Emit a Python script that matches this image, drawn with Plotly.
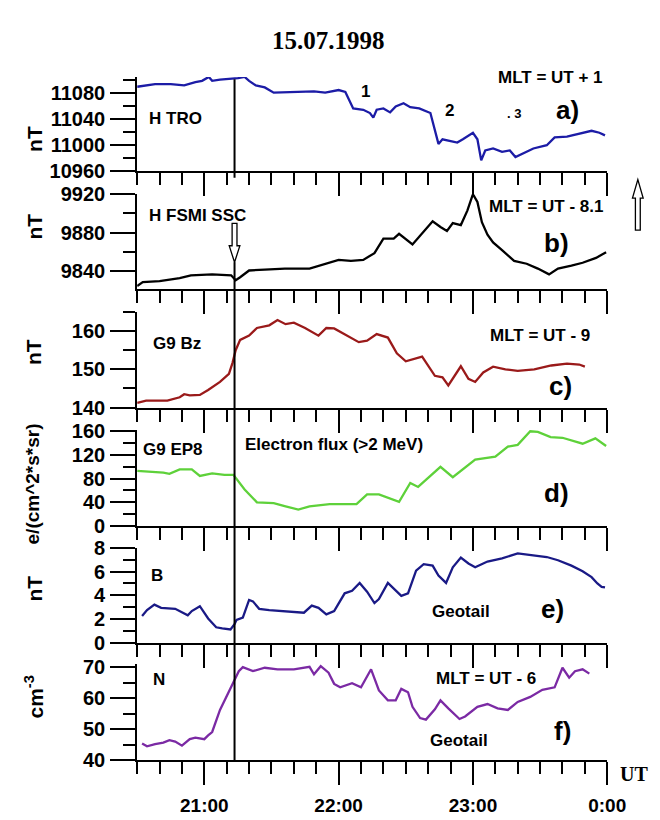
import plotly.graph_objects as go

W, H = 660, 820

# ---------------- data (minutes after 20:30 UT, values) ----------------
tro_min = [0, 4, 8, 15, 21, 26, 29, 32, 33.5, 37, 43, 45, 48, 50, 53, 57, 61, 70, 79, 84, 90, 93, 95,
           96.5, 101, 104, 105.5, 107, 110, 113, 115.5, 119, 122, 126, 131, 133, 134.6, 136.4, 139, 143,
           145.5, 150, 152, 153.7, 155.5, 159, 163, 166.5, 169, 172, 177, 183, 186.5, 192, 197.5, 203,
           206.5, 209]
tro_val = [11089, 11091, 11093, 11093, 11091, 11096, 11098, 11104, 11098, 11100, 11101, 11102, 11104,
           11098, 11091, 11088, 11080, 11081, 11082, 11080, 11084, 11081, 11066, 11056, 11054, 11049,
           11042, 11054, 11056, 11050, 11059, 11064, 11058, 11056, 11049, 11024, 11002, 11009, 11007,
           11004, 11009, 11019, 11009, 10977, 10992, 10995, 10990, 10992, 10982, 10987, 10995, 11000,
           11012, 11013, 11017, 11022, 11019, 11015]

fsmi_min = [0, 2.5, 10, 15, 19, 24, 33.5, 42, 44, 46, 50, 57, 66, 77, 84.5, 90, 95.5, 101, 106, 110,
            114.6, 117, 123, 127.5, 132, 135.5, 138.4, 141, 144.6, 147.5, 150, 152, 154, 156.5, 159,
            163, 168.4, 174, 179, 184, 188, 194, 199, 205, 209.5]
fsmi_val = [9825, 9829, 9830, 9832, 9833, 9836, 9837, 9836, 9831, 9834, 9841, 9842, 9843, 9843, 9848,
            9852, 9851, 9852, 9859, 9874, 9874, 9879, 9868, 9880, 9892, 9886, 9882, 9890, 9888, 9903,
            9920, 9912, 9891, 9878, 9870, 9862, 9851, 9848, 9843, 9837, 9843, 9846, 9849, 9854, 9860]

bz_min = [0, 4, 13.5, 19, 21, 23.5, 28, 31.7, 37, 41, 42.6, 44, 46, 50, 53.5, 59, 62.7, 66.3, 70, 75,
          81, 84.5, 88, 93.6, 99, 102.7, 107, 112, 116, 120, 124.6, 127.3, 133, 136.4, 139, 142, 144.6,
          148, 151, 154.6, 159, 164.5, 170, 177.4, 185, 192, 197.5, 200]
bz_val = [141.2, 141.8, 141.8, 142.7, 143.5, 143.2, 143.3, 144.6, 146.7, 148.8, 151.7, 155.0, 157.7,
          158.8, 160.8, 161.5, 162.9, 161.8, 162.2, 160.8, 158.8, 160.8, 160.7, 158.8, 157.1, 157.5,
          159.2, 158.3, 154.2, 152.1, 152.9, 153.3, 148.3, 147.9, 145.8, 148.3, 150.8, 147.5, 146.7,
          149.2, 150.7, 150.0, 149.6, 150.0, 151.0, 151.5, 151.25, 150.7]

ep8_min = [0, 4, 11.7, 14.4, 19, 24.4, 28, 33.5, 39, 43, 48, 53.5, 61, 66.3, 72, 77, 86, 98, 102.7,
           108, 112.7, 117, 122, 125.5, 135.5, 141, 151, 160, 165.6, 170, 175.6, 179, 184.7, 190, 199,
           204.7, 209.5]
ep8_val = [93, 92, 90, 88, 95.5, 95.5, 84.6, 89, 86.3, 86.3, 61.7, 40, 38.8, 33.3, 27.8, 33.3, 37, 37,
           53.5, 53.5, 46.4, 41, 72.6, 66, 100, 82.4, 112, 117, 134, 137, 160, 159, 150, 149, 139, 148,
           135]

b_min = [2.2, 4.4, 7.7, 10.7, 17, 20.4, 22.6, 24.4, 28, 31.7, 35.3, 38, 41.7, 43.5, 44.4, 47.2, 50,
         51.7, 54.5, 59, 66.3, 70, 74.5, 78, 81, 84.5, 88, 92.7, 96, 99.4, 102.7, 106, 108, 112, 115.5,
         118, 121, 124.6, 128, 132, 134.6, 138, 141, 144.6, 148, 151, 156.5, 163, 170, 175.6, 183, 188,
         194, 199, 203, 205.6, 207.5, 209]
b_val = [2.25, 2.74, 3.2, 2.93, 2.85, 2.52, 2.3, 2.66, 3.07, 2.03, 1.29, 1.2, 1.1, 1.56, 1.92, 2.1, 3.6,
         3.48, 2.85, 2.74, 2.66, 2.58, 2.52, 3.12, 2.93, 2.38, 2.66, 4.16, 4.38, 5.04, 4.3, 3.34, 3.67,
         5.04, 4.44, 3.95, 4.16, 6.08, 6.63, 6.5, 5.67, 5.04, 6.36, 7.18, 6.68, 6.36, 6.85, 7.12, 7.53,
         7.4, 7.23, 6.96, 6.5, 6.03, 5.53, 4.99, 4.71, 4.66]

n_min = [2.2, 4.4, 8, 11.7, 14.4, 17, 20, 23.5, 26, 30, 31.7, 33.5, 37, 41, 43.5, 45.4, 47.2, 51.7, 57,
         62.7, 70, 77, 79, 82, 85.5, 88, 90.7, 96, 100, 104.5, 108, 112, 115.5, 118, 121, 123, 126.4,
         129, 133, 135.5, 139, 144, 146.5, 152, 156.5, 161, 165.6, 170, 175.6, 181, 186.5, 190, 193,
         195.6, 199, 202]
n_val = [45.4, 44.5, 45.2, 45.7, 46.5, 46.0, 44.7, 46.8, 47.3, 46.8, 48.0, 49.1, 56.2, 61.9, 66.0, 68.7,
         70.0, 68.7, 69.8, 69.3, 69.3, 70.1, 67.7, 70.3, 68.2, 64.6, 63.5, 64.8, 63.5, 69.3, 62.5, 59.3,
         59.3, 63.0, 61.9, 57.2, 53.6, 53.1, 56.4, 59.3, 56.7, 53.3, 54.1, 57.2, 58.1, 56.7, 56.2, 58.8,
         60.4, 62.7, 63.5, 69.8, 66.6, 68.7, 69.3, 67.9]

x_tickvals = [21, 22, 23, 24]
x_ticktext = ["21:00", "22:00", "23:00", "0:00"]
ssc_time = 21.225  # SSC vertical marker (UT hours)

# ---------------- layout geometry (pixels) ----------------
X_LEFT, X_RIGHT = 133, 617
X_RANGE = [20.5, 24]
panels = [
    # (bottom_px, top_px, range, major dtick, minor dtick, tick0, color, minutes, values)
    (156.7, 59.5, [10960, 11104], 40, 20, 10960, "#1c1ca6", tro_min, tro_val),
    (277.3, 180.0, [9822, 9920], 40, 20, 9840, "#000000", fsmi_min, fsmi_val),
    (399.3, 301.0, [140, 165], 10, 5, 140, "#9a1a1a", bz_min, bz_val),
    (521.0, 422.4, [0, 162], 40, 20, 0, "#5ed13a", ep8_min, ep8_val),
    (640.7, 543.5, [0, 8], 2, 1, 0, "#1a1a86", b_min, b_val),
    (761.7, 662.8, [40, 71], 10, 5, 40, "#7b2aa4", n_min, n_val),
]


def px(x):
    return x / W


def py(y):
    return 1 - y / H


def sfx(k):
    return "" if k == 1 else str(k)


fig = go.Figure()
layout = dict(
    width=W, height=H, margin=dict(l=0, r=0, t=0, b=0),
    paper_bgcolor="white", plot_bgcolor="white", showlegend=False,
)

ytick_font = dict(family="Liberation Sans", size=20, color="black", weight="bold")
xtick_font = dict(family="Liberation Sans", size=19, color="black", weight="bold")
LW = 2

for i, (yb, yt, rng, dt, mdt, t0, col, mins, vals) in enumerate(panels):
    n = i + 1
    fig.add_trace(go.Scatter(
        x=[20.5 + m / 60 for m in mins], y=vals, mode="lines",
        line=dict(color=col, width=2.3), xaxis=f"x{sfx(n)}", yaxis=f"y{sfx(n)}",
        hoverinfo="skip"))
    last = (n == 6)
    layout[f"xaxis{sfx(n)}"] = dict(
        domain=[px(X_LEFT), px(X_RIGHT)], range=X_RANGE, anchor=f"y{sfx(n)}",
        showline=True, linecolor="black", linewidth=LW, showgrid=False, zeroline=False,
        ticks="outside", tickvals=x_tickvals, ticktext=x_ticktext, ticklen=23,
        tickwidth=LW, tickcolor="black", showticklabels=last, tickfont=xtick_font,
        ticklabelstandoff=4,
        minor=dict(ticks="outside", dtick=1 / 6, tick0=X_RANGE[0], ticklen=12, tickwidth=LW,
                   tickcolor="black", showgrid=False),
    )
    layout[f"yaxis{sfx(n)}"] = dict(
        domain=[py(yb), py(yt)], range=rng, anchor=f"x{sfx(n)}",
        showline=True, linecolor="black", linewidth=LW, showgrid=False, zeroline=False,
        ticks="outside", dtick=dt, tick0=t0, tickformat="d", ticklen=25,
        tickwidth=LW, tickcolor="black", tickfont=ytick_font, ticklabelstandoff=1,
        minor=dict(ticks="outside", dtick=mdt, tick0=t0, ticklen=12, tickwidth=LW,
                   tickcolor="black", showgrid=False),
    )

fig.update_layout(**layout)

# ---------------- SSC vertical line and arrows ----------------
shapes = [
    dict(type="line", xref="x", yref="paper", x0=ssc_time, x1=ssc_time, y0=py(62), y1=py(163),
         line=dict(color="black", width=2)),
    dict(type="line", xref="x", yref="paper", x0=ssc_time, x1=ssc_time, y0=py(250), y1=py(761.7),
         line=dict(color="black", width=2)),
]


def arrow_path(cx, y_tail, y_head_base, y_tip, shaft_hw, head_hw):
    pts = [(cx - shaft_hw, y_tail), (cx + shaft_hw, y_tail), (cx + shaft_hw, y_head_base),
           (cx + head_hw, y_head_base), (cx, y_tip), (cx - head_hw, y_head_base),
           (cx - shaft_hw, y_head_base)]
    return "M " + " L ".join(f"{px(x):.5f},{py(y):.5f}" for x, y in pts) + " Z"


ssc_px = X_LEFT + (ssc_time - X_RANGE[0]) / (X_RANGE[1] - X_RANGE[0]) * (X_RIGHT - X_LEFT)
shapes.append(dict(type="path", xref="paper", yref="paper",
                   path=arrow_path(ssc_px, 210, 233, 250, 2.5, 5.5),
                   fillcolor="white", line=dict(color="black", width=1.3)))
shapes.append(dict(type="path", xref="paper", yref="paper",
                   path=arrow_path(648.5, 217, 184, 165, 2.5, 5.5),
                   fillcolor="white", line=dict(color="black", width=1.3)))
fig.update_layout(shapes=shapes)


# ---------------- text ----------------
def ann(text, x, y, xanchor="left", size=17, family="Liberation Sans", angle=0):
    fig.add_annotation(text=text, x=px(x), y=py(y), xref="paper", yref="paper",
                       xanchor=xanchor, yanchor="middle", showarrow=False, textangle=angle,
                       borderpad=0, font=dict(family=family, size=size, color="black",
                                              weight="bold"))


ann("15.07.1998", 330, 22, "center", 25, "Liberation Serif")
ann("UT", 629, 776, "left", 20, "Liberation Serif")

# axis titles
ann("nT", 27, 123, "center", 21, angle=-90)
ann("nT", 27, 213, "center", 21, angle=-90)
ann("nT", 27, 342, "center", 21, angle=-90)
ann("e/(cm^2*s*sr)", 25, 478, "center", 19, angle=-90)
ann("nT", 27, 585, "center", 21, angle=-90)
ann("cm<sup>-3</sup>", 27, 697, "center", 21, angle=-90)

# panel a
ann("H TRO", 144, 102)
ann("MLT = UT + 1", 614, 60, "right")
ann("1", 368, 75, "center")
ann("2", 455, 94, "center")
ann(". 3", 521, 97, "center", 13)
ann("a)", 576, 94, "center", 26)
# panel b
ann("H FSMI SSC", 144, 202)
ann("MLT = UT - 8.1", 614, 193, "right")
ann("b)", 565, 230, "center", 26)
# panel c
ann("G9 Bz", 148, 333)
ann("MLT = UT - 9", 548, 325, "center")
ann("c)", 569, 377, "center", 26)
# panel d
ann("G9 EP8", 138, 442)
ann("Electron flux (>2 MeV)", 243, 437)
ann("d)", 565, 487, "center", 26)
# panel e
ann("B", 146, 572)
ann("Geotail", 466, 609, "center")
ann("e)", 561, 606, "center", 26)
# panel f
ann("N", 148, 679)
ann("MLT = UT - 6", 492, 678, "center")
ann("Geotail", 464, 741, "center")
ann("f)", 571, 732, "center", 26)

fig.write_html("out.html")
